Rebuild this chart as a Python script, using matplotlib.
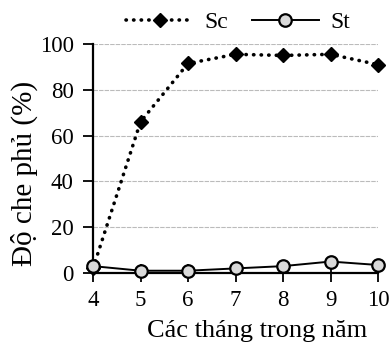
import matplotlib
matplotlib.use("Agg")
import matplotlib.pyplot as plt

months = [4, 5, 6, 7, 8, 9, 10]
sc = [2, 66, 91.5, 95.5, 95, 95.5, 91]
st = [3, 1, 1, 2, 3, 5, 3.5]
yticks = [0, 20, 40, 60, 80, 100]

plt.rcParams['font.family'] = ['Liberation Serif', 'DejaVu Serif']

fig = plt.figure(figsize=(3.91, 3.49), dpi=100)
ax = fig.add_axes([93/391, 1-273/349, (378-93)/391, (273-44)/349])

ax.plot(months, sc, linestyle=(0, (0.1, 2.0)), dash_capstyle='round', color='black', lw=2.6,
        marker='D', markersize=7.5, markerfacecolor='black', markeredgecolor='black',
        label='Sc', clip_on=False, zorder=3)
ax.plot(months, st, linestyle='-', color='black', lw=1.4,
        marker='o', markersize=9, markerfacecolor='#d9d9d9', markeredgecolor='black', markeredgewidth=1.6,
        label='St', clip_on=False, zorder=4)

ax.set_xlim(4, 10)
ax.set_ylim(0, 100)
ax.set_xticks(months)
ax.set_yticks(yticks)
ax.tick_params(axis='y', labelsize=16.5, direction='out', length=7, width=1.3, pad=7)
ax.tick_params(axis='x', labelsize=16.5, direction='inout', length=13, width=1.3, pad=6)
for s in ['top', 'right']:
    ax.spines[s].set_visible(False)
for s in ['left', 'bottom']:
    ax.spines[s].set_linewidth(1.6)
ax.yaxis.grid(True, color='#bbbbbb', lw=0.8, linestyle=(0, (4, 1)))
ax.set_axisbelow(True)

ax.set_xlabel('Các tháng trong năm', fontsize=19)
ax.xaxis.set_label_coords((257-93)/285, -(342-273)/229)
ax.xaxis.label.set_va('bottom')
ax.set_ylabel('Độ che phủ (%)', fontsize=21)
ax.yaxis.set_label_coords((38-93)/285, (273-173)/229)

leg = ax.legend(loc='center', bbox_to_anchor=(238/391, 1-22/349), bbox_transform=fig.transFigure,
                ncol=2, frameon=False, fontsize=17,
                handlelength=2.85, columnspacing=1.0, handletextpad=0.47, borderaxespad=0.0,
                borderpad=0.0)

fig.savefig('out.png', dpi=100)
